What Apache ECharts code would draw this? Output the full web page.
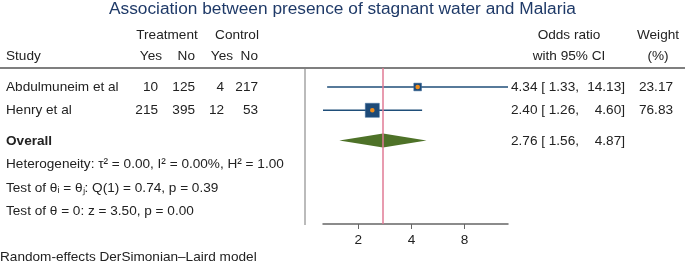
<!DOCTYPE html>
<html>
<head>
<meta charset="utf-8">
<script src="https://cdn.jsdelivr.net/npm/echarts@6/dist/echarts.min.js"></script>
<style>
  html, body { margin: 0; padding: 0; background: #fff; }
  #main { width: 685px; height: 271px; }
</style>
</head>
<body>
<div id="main"></div>
<script>
// study data
var studies = ["Abdulmuneim et al", "Henry et al"];
var treatYes = [10, 215];
var treatNo = [125, 395];
var ctrlYes = [4, 12];
var ctrlNo = [217, 53];
var oddsRatio = [4.34, 2.40];
var ciLower = [1.33, 1.26];
var ciUpper = [14.13, 4.60];
var weights = [23.17, 76.83];
// overall (random effects)
var overallOR = 2.76;
var overallLower = 1.56;
var overallUpper = 4.87;
var xTicks = [2, 4, 8];
var statLines = [
  "Heterogeneity: τ² = 0.00, I² = 0.00%, H² = 1.00",
  "Test of θᵢ = θⱼ: Q(1) = 0.74, p = 0.39",
  "Test of θ = 0: z = 3.50, p = 0.00"
];
var rowPos = [1, 2, 3.3, 4.33, 5.36, 6.35];

var FONT = "Liberation Sans, Arial, sans-serif";
var FS = "13.6px ";
var TXT = "#222";
var chart = echarts.init(document.getElementById("main"));

var studyData = [];
for (var i = 0; i < studies.length; i++) {
  studyData.push([oddsRatio[i], ciLower[i], ciUpper[i], weights[i], rowPos[i]]);
}

chart.setOption({
  animation: false,
  grid: { left: 323, right: 177, top: 68, bottom: 47 },
  xAxis: {
    type: "log",
    logBase: 2,
    min: Math.min.apply(null, ciLower),
    max: Math.max.apply(null, ciUpper),
    splitLine: { show: false },
    axisLine: { show: true, lineStyle: { color: "#666", width: 1.5 } },
    axisTick: { show: true, length: 5, lineStyle: { color: "#666" }, customValues: xTicks },
    axisLabel: { customValues: xTicks, fontFamily: FONT, fontSize: 13.6, color: TXT, margin: 9 }
  },
  yAxis: { type: "value", inverse: true, min: 0.185, max: 6.88, show: false },
  series: [
    {
      type: "custom",
      data: studyData,
      renderItem: function (params, api) {
        var row = api.value(4);
        var pe = api.coord([api.value(0), row]);
        var pl = api.coord([api.value(1), row]);
        var pu = api.coord([api.value(2), row]);
        var side = 1.6 * Math.sqrt(api.value(3));
        return {
          type: "group",
          children: [
            { type: "line", shape: { x1: pl[0], y1: pl[1], x2: pu[0], y2: pu[1] },
              style: { stroke: "#1f4e79", lineWidth: 1.5 } },
            { type: "rect", shape: { x: pe[0] - side / 2, y: pe[1] - side / 2, width: side, height: side },
              style: { fill: "#1d4a78", stroke: "#3a6a9a", lineWidth: 0.5 } },
            { type: "circle", shape: { cx: pe[0], cy: pe[1], r: 2.3 }, style: { fill: "#f08c1a" } }
          ]
        };
      },
      markLine: {
        silent: true,
        symbol: "none",
        label: { show: false },
        lineStyle: { color: "#e07a95", width: 1.5, type: "solid" },
        data: [{ xAxis: overallOR }]
      },
      z: 3
    },
    {
      type: "custom",
      data: [[overallOR, overallLower, overallUpper, rowPos[2]]],
      renderItem: function (params, api) {
        var row = api.value(3);
        var pe = api.coord([api.value(0), row]);
        var pl = api.coord([api.value(1), row]);
        var pu = api.coord([api.value(2), row]);
        return {
          type: "polygon",
          shape: { points: [[pl[0], pl[1]], [pe[0], pe[1] - 7], [pu[0], pu[1]], [pe[0], pe[1] + 7]] },
          style: { fill: "#4e7228" }
        };
      },
      z: 2
    }
  ]
});

// table text, rows aligned with the plot rows
function rowY(k) { return chart.convertToPixel({ yAxisIndex: 0 }, rowPos[k]); }
function txt(x, y, s, align, extra) {
  var st = { text: s, x: x, y: y, fill: TXT, font: FS + FONT, textAlign: align || "left", textVerticalAlign: "middle" };
  if (extra) for (var k in extra) st[k] = extra[k];
  return { type: "text", silent: true, style: st };
}

var g = [];
g.push({ type: "text", left: "center", top: 1,
  style: { text: "Association between presence of stagnant water and Malaria", fill: "#1f3a68", font: "17.3px " + FONT } });
// header
g.push(txt(167, 35, "Treatment", "center"));
g.push(txt(237, 35, "Control", "center"));
g.push(txt(6, 56, "Study"));
g.push(txt(162, 56, "Yes", "right"));
g.push(txt(195, 56, "No", "right"));
g.push(txt(233, 56, "Yes", "right"));
g.push(txt(258, 56, "No", "right"));
g.push(txt(569, 35, "Odds ratio", "center"));
g.push(txt(569, 56, "with 95% CI", "center"));
g.push(txt(658, 35, "Weight", "center"));
g.push(txt(658, 56, "(%)", "center"));
// separators
g.push({ type: "line", silent: true, shape: { x1: 0, y1: 68, x2: 685, y2: 68 }, style: { stroke: "#555", lineWidth: 1.5 } });
g.push({ type: "line", silent: true, shape: { x1: 305, y1: 69, x2: 305, y2: 225 }, style: { stroke: "#bbb", lineWidth: 2 } });

for (var r = 0; r < studies.length; r++) {
  var y = rowY(r);
  g.push(txt(6, y, studies[r]));
  g.push(txt(158, y, String(treatYes[r]), "right"));
  g.push(txt(195, y, String(treatNo[r]), "right"));
  g.push(txt(224, y, String(ctrlYes[r]), "right"));
  g.push(txt(258, y, String(ctrlNo[r]), "right"));
  g.push(txt(511, y, oddsRatio[r].toFixed(2) + " [ " + ciLower[r].toFixed(2) + ","));
  g.push(txt(625, y, ciUpper[r].toFixed(2) + "]", "right"));
  g.push(txt(673, y, weights[r].toFixed(2), "right"));
}
var yo = rowY(2);
g.push(txt(6, yo + 1, "Overall", "left", { font: "bold " + FS + FONT }));
g.push(txt(511, yo + 1, overallOR.toFixed(2) + " [ " + overallLower.toFixed(2) + ","));
g.push(txt(625, yo + 1, overallUpper.toFixed(2) + "]", "right"));
for (var s = 0; s < statLines.length; s++) {
  g.push(txt(6, rowY(3 + s), statLines[s]));
}
g.push(txt(0, 257, "Random-effects DerSimonian–Laird model"));

chart.setOption({ graphic: g });
</script>
</body>
</html>
